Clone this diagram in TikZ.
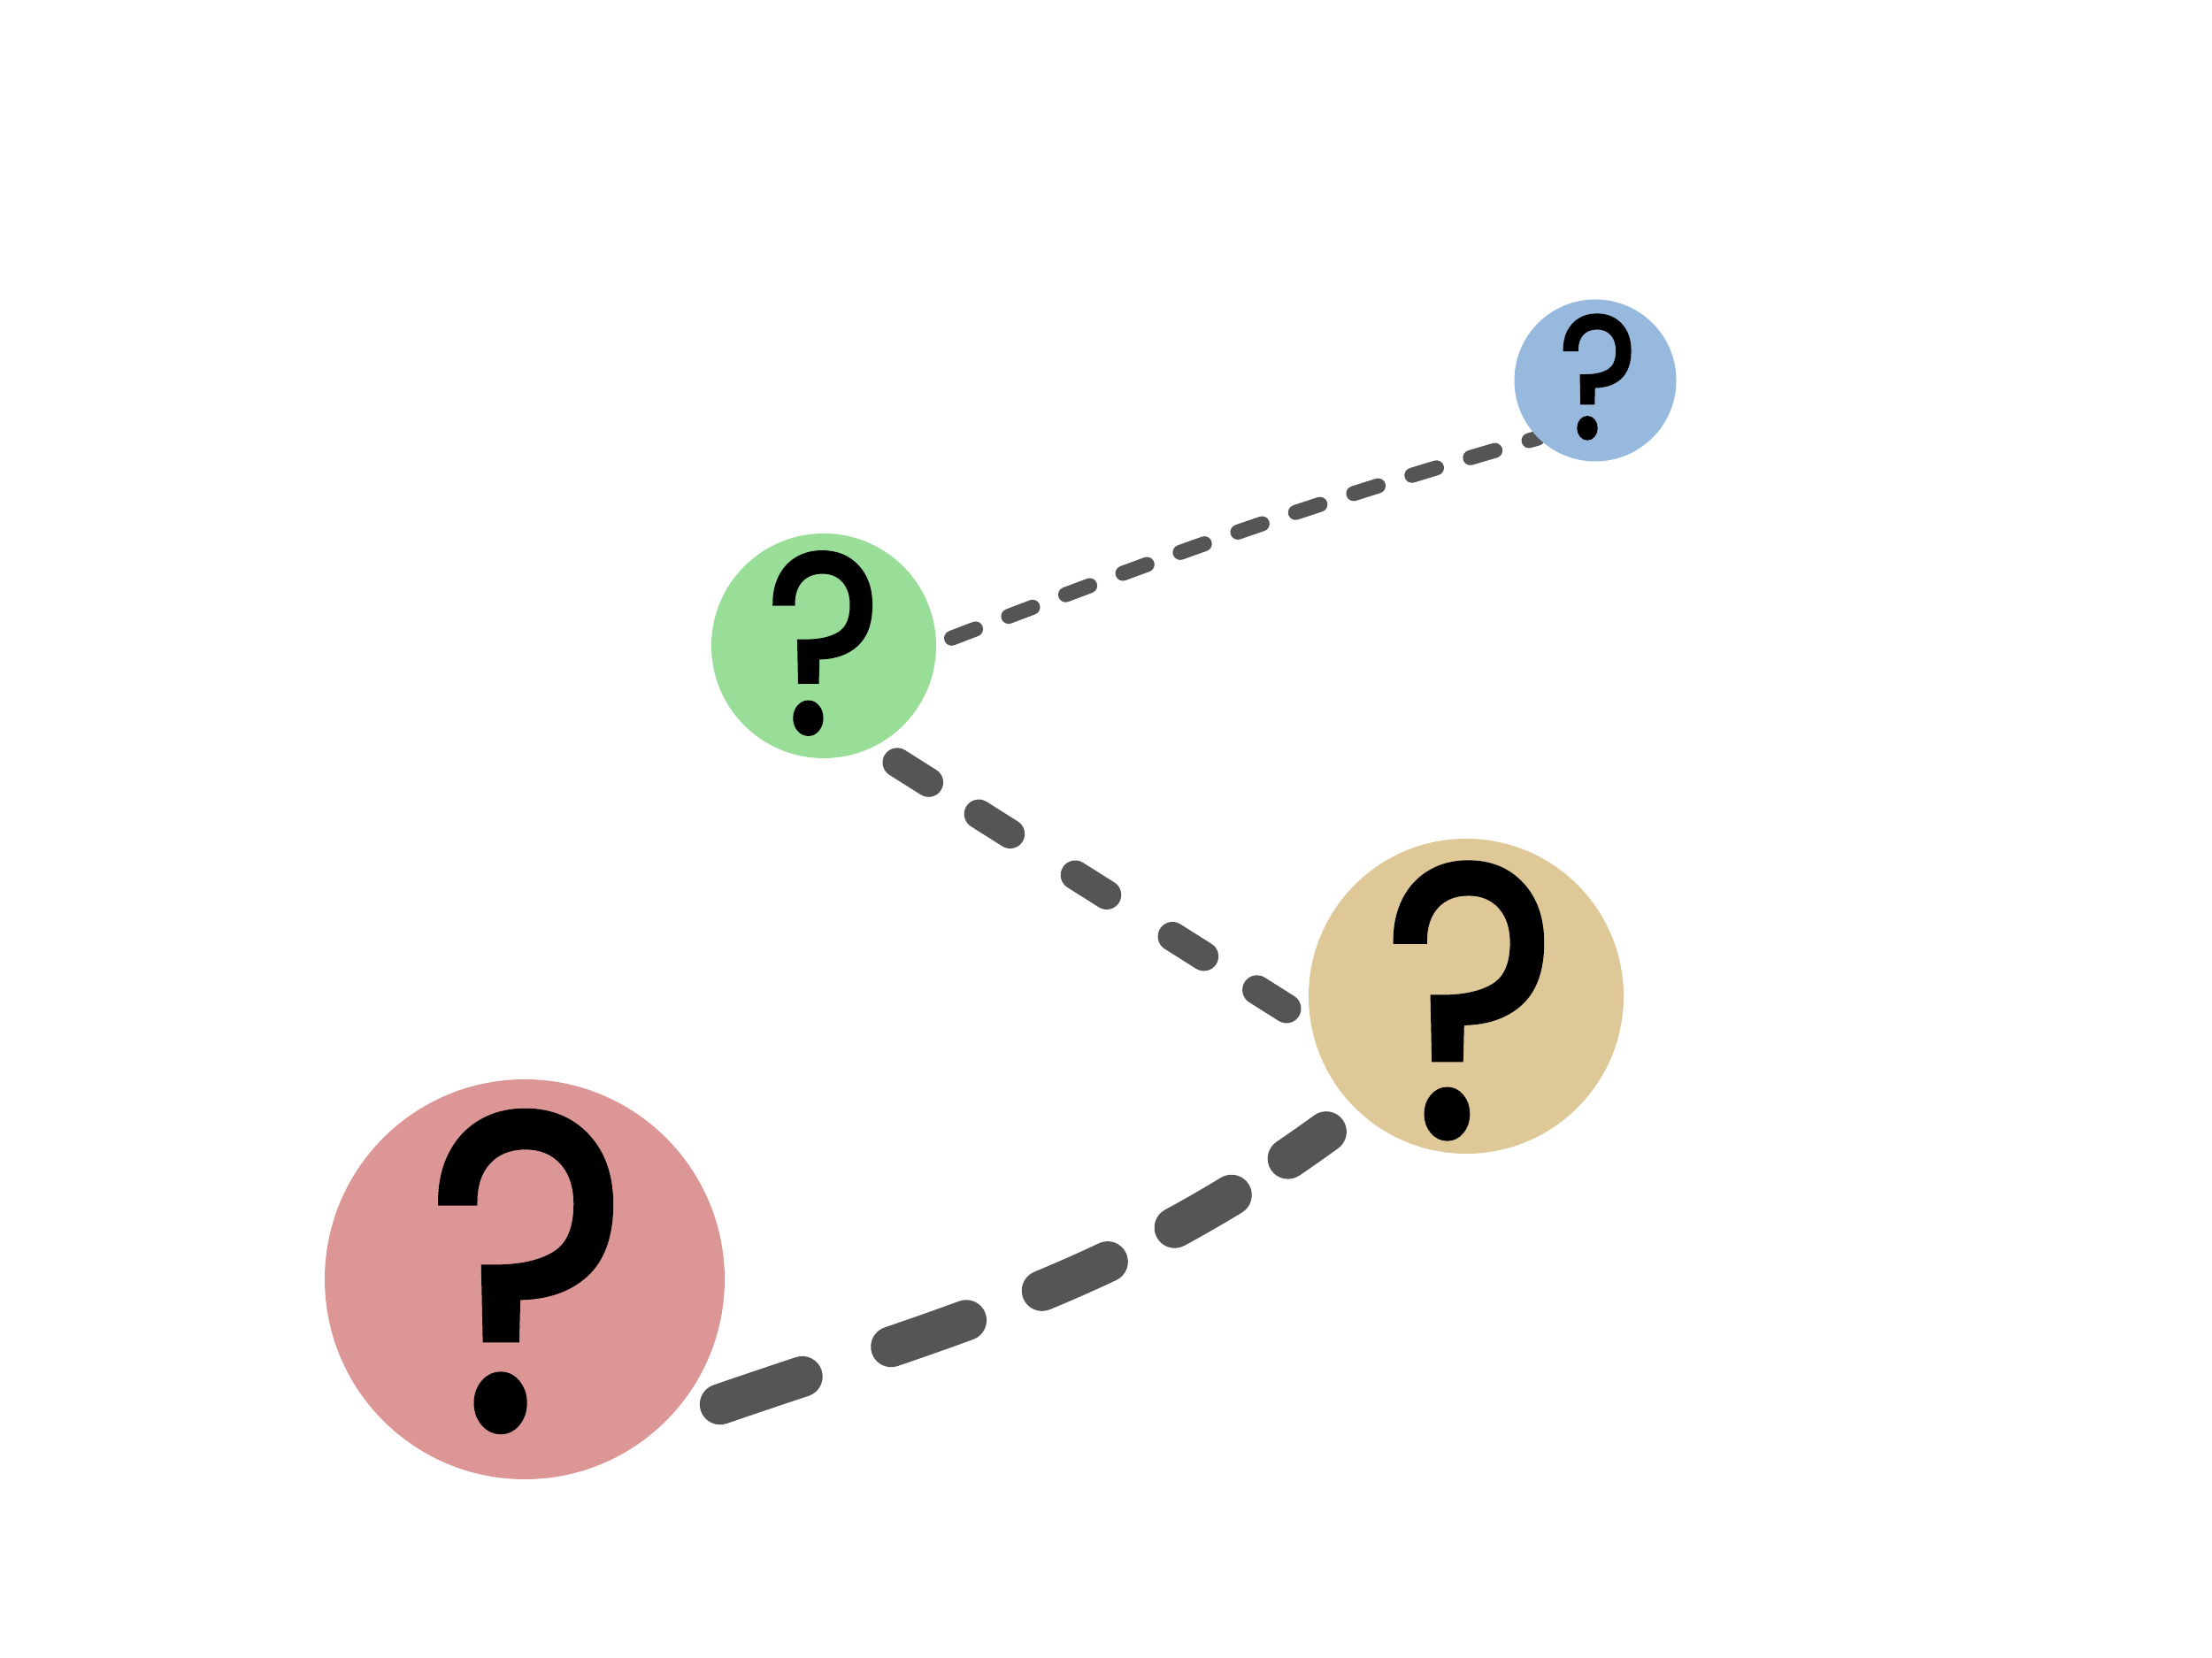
\documentclass[tikz,border=0pt]{standalone}
\usepackage{fontspec}
\setmainfont{Poppins}[FakeBold=1.6]
\usetikzlibrary{backgrounds}
\definecolor{ballred}{RGB}{221,150,150}
\definecolor{ballgreen}{RGB}{152,222,152}
\definecolor{ballblue}{RGB}{152,185,222}
\definecolor{ballsand}{RGB}{222,200,152}
\definecolor{trailgray}{RGB}{85,85,85}
\newcommand{\qsize}[1]{\fontsize{#1}{#1}\selectfont}
\newcommand{\qglyph}{\scalebox{0.86}[1]{?}}
\begin{document}
\begin{tikzpicture}
	\tikzstyle{ball}=[circle,inner sep=0pt]
	\tikzstyle{qmark}=[inner sep=0pt,text=black]
	\tikzstyle{trail}=[draw=trailgray,line cap=round]
	\useasboundingbox (0,0) rectangle (25,18.74);
	\node[ball,fill=ballred,minimum size=4.52cm] (redball) at (5.93,4.28) {};
	\node[ball,fill=ballgreen,minimum size=2.54cm] (greenball) at (9.31,11.44) {};
	\node[ball,fill=ballblue,minimum size=1.83cm] (blueball) at (18.03,14.44) {};
	\node[ball,fill=ballsand,minimum size=3.56cm] (sandball) at (16.57,7.48) {};
	\node[qmark,font=\qsize{144}] (redq) at (5.965,4.37) {\qglyph};
	\node[qmark,font=\qsize{82}] (greenq) at (9.31,11.47) {\qglyph};
	\node[qmark,font=\qsize{56}] (blueq) at (18.06,14.48) {\qglyph};
	\node[qmark,font=\qsize{124}] (sandq) at (16.62,7.43) {\qglyph};
	\begin{pgfonlayer}{background}
	\draw[trail,line width=0.17cm,dash pattern=on 0.29cm off 0.40cm,shorten <=0.18cm] (greenball.1) to[out=21,in=196] (blueball.225);
	\draw[trail,line width=0.33cm,dash pattern=on 0.42cm off 0.67cm on 0.42cm off 0.87cm on 0.42cm off 0.88cm on 0.42cm off 0.71cm on 0.42cm off 2cm,shorten <=0.32cm,shorten >=0.32cm] (greenball.-64.5) -- (sandball.190.8);
	\draw[trail,line width=0.46cm,dash pattern=on 0.98cm off 1.06cm on 0.90cm off 0.92cm on 0.81cm off 0.85cm on 0.74cm off 0.76cm on 0.55cm off 2cm,shorten <=0.67cm,shorten >=0.42cm] (redball.-46) to[out=19,in=216] (sandball.226);
	\end{pgfonlayer}
\end{tikzpicture}
\end{document}
